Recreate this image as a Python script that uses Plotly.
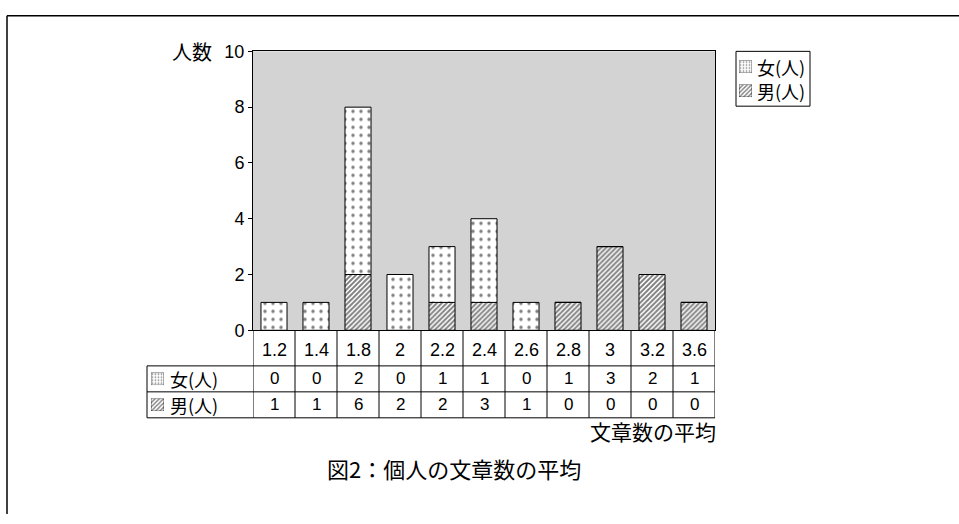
import plotly.graph_objects as go

# Average number of sentences per person (category axis) and head counts
averages = ["1.2", "1.4", "1.8", "2", "2.2", "2.4", "2.6", "2.8", "3", "3.2", "3.6"]
female = [0, 0, 2, 0, 1, 1, 0, 1, 3, 2, 1]
male = [1, 1, 6, 2, 2, 3, 1, 0, 0, 0, 0]
y_ticks = [0, 2, 4, 6, 8, 10]
row_names = ["女(人)", "男(人)"]
y_title = "人数"
x_title = "文章数の平均"
caption = "図2：個人の文章数の平均"

W, H = 959, 524
L, R, T, B = 253, 715, 43, 333          # plot box in pixels
ROWS = [333, 370, 397, 424]             # data-table row edges in pixels
TABLE_LEFT = 147
LEG = (736, 810, 43, 100)               # legend box: left, right, top, bottom
LEG_ROWS = [59, 84]

JP = "Noto Sans CJK JP"
NUM = "Liberation Sans"


def px(x):
    return x / W


def py(y):
    return 1 - y / H


DOTS = dict(shape=".", fgcolor="black", bgcolor="white", size=8, solidity=0.15)
HATCH = dict(shape="/", fgcolor="black", bgcolor="white", size=3.5, solidity=0.55)
DOTS_KEY = dict(shape=".", fgcolor="black", bgcolor="white", size=3, solidity=0.25)
HATCH_KEY = dict(shape="/", fgcolor="black", bgcolor="white", size=3, solidity=0.45)
EDGE = dict(color="black", width=1)

idx = list(range(len(averages)))
fig = go.Figure()

# stacked bars: hatched segment at the bottom, dotted segment on top of it
fig.add_bar(x=idx, y=female, width=0.62, showlegend=False,
            marker=dict(color="white", pattern=HATCH, line=EDGE))
fig.add_bar(x=idx, y=male, base=female, width=0.62, showlegend=False,
            marker=dict(color="white", pattern=DOTS, line=EDGE))

layout_axes = {}
n_axis = [3]


def add_key(pattern, x0, x1, yc, half=6.5):
    """Small patterned square used as a key in the legend and table headers."""
    n = n_axis[0]
    n_axis[0] += 1
    fig.add_bar(x=[0], y=[1], width=1, showlegend=False, hoverinfo="skip",
                marker=dict(color="white", pattern=pattern, line=dict(color="black", width=0.6)),
                xaxis=f"x{n}", yaxis=f"y{n}")
    layout_axes[f"xaxis{n}"] = dict(domain=[px(x0), px(x1)], range=[-0.5, 0.5], visible=False,
                                    anchor=f"y{n}", fixedrange=True)
    layout_axes[f"yaxis{n}"] = dict(domain=[py(yc + half), py(yc - half)], range=[0, 1],
                                    visible=False, anchor=f"x{n}", fixedrange=True)


keys = [DOTS_KEY, HATCH_KEY]
for r, pat in enumerate(keys):
    add_key(pat, TABLE_LEFT + 4, TABLE_LEFT + 17, (ROWS[r + 1] + ROWS[r + 2]) / 2)
    add_key(pat, LEG[0] + 3, LEG[0] + 16, LEG_ROWS[r])

shapes = []
# outer frame (top and left edges)
shapes.append(dict(type="line", xref="paper", yref="paper", x0=px(7), x1=1, y0=py(6), y1=py(6),
                   line=dict(color="black", width=1.5)))
shapes.append(dict(type="line", xref="paper", yref="paper", x0=px(7), x1=px(7), y0=py(6), y1=0,
                   line=dict(color="black", width=1.5)))
# legend frame
shapes.append(dict(type="rect", xref="paper", yref="paper", x0=px(LEG[0]), x1=px(LEG[1]),
                   y0=py(LEG[3]), y1=py(LEG[2]), line=dict(color="black", width=1),
                   fillcolor="rgba(0,0,0,0)"))
# data-table grid
for k in range(len(averages) + 1):
    shapes.append(dict(type="line", xref="x", yref="paper", x0=k - 0.5, x1=k - 0.5,
                       y0=py(ROWS[0]), y1=py(ROWS[-1]), line=dict(color="black", width=1)))
shapes.append(dict(type="line", xref="paper", yref="paper", x0=px(TABLE_LEFT), x1=px(TABLE_LEFT),
                   y0=py(ROWS[1]), y1=py(ROWS[-1]), line=dict(color="black", width=1)))
for yy in ROWS[1:]:
    shapes.append(dict(type="line", xref="paper", yref="paper", x0=px(TABLE_LEFT), x1=px(R),
                       y0=py(yy), y1=py(yy), line=dict(color="black", width=1)))

ann = []


def text(x, y, s, family, size, xanchor="center", xref="paper"):
    ann.append(dict(x=x, xref=xref, y=y, yref="paper", text=s, showarrow=False,
                    xanchor=xanchor, yanchor="middle",
                    font=dict(family=family, size=size, color="black")))


for i, lab in enumerate(averages):
    text(i, py((ROWS[0] + ROWS[1]) / 2 + 2), lab, NUM, 18, xref="x")
for r, vals in enumerate([female, male]):
    yc = py((ROWS[r + 1] + ROWS[r + 2]) / 2)
    text(px(TABLE_LEFT + 21), yc, row_names[r], JP, 18, xanchor="left")
    for i, v in enumerate(vals):
        text(i, yc, str(v), NUM, 17, xref="x")
    text(px(LEG[0] + 19), py(LEG_ROWS[r]), row_names[r], JP, 18, xanchor="left")
text(px(214), py(T), y_title, JP, 20, xanchor="right")
text(px(R + 3), py(ROWS[-1] + 14), x_title, JP, 21, xanchor="right")
text(px(454), py(ROWS[-1] + 52), caption, JP, 22)

fig.update_layout(
    width=W, height=H,
    margin=dict(l=0, r=0, t=0, b=0),
    paper_bgcolor="white",
    plot_bgcolor="#d3d3d3",
    barmode="overlay",
    showlegend=False,
    shapes=shapes,
    annotations=ann,
    xaxis=dict(domain=[px(L), px(R)], range=[-0.5, len(averages) - 0.5], showticklabels=False,
               ticks="", showgrid=False, zeroline=False, showline=True, linecolor="black",
               linewidth=1, mirror=True, fixedrange=True),
    yaxis=dict(domain=[py(B), py(T)], range=[0, 10], tickvals=y_ticks, ticks="outside", ticklen=4,
               tickcolor="black", showgrid=False, zeroline=False, showline=True, linecolor="black",
               linewidth=1, mirror=True, tickfont=dict(family=NUM, size=18, color="black"),
               fixedrange=True),
    **layout_axes,
)

fig.write_html("out.html")
